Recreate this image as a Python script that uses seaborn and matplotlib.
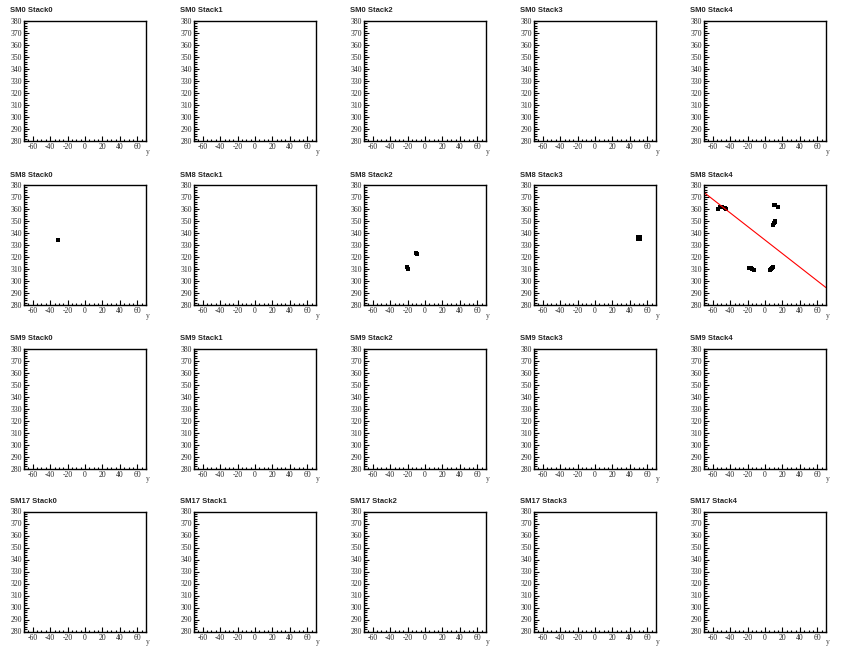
import seaborn as sns
import matplotlib.pyplot as plt
from matplotlib.ticker import MultipleLocator
import pandas as pd

# modules and stacks shown in the grid
sm_ids = [0, 8, 9, 17]
stack_ids = [0, 1, 2, 3, 4]

# hits (y, z) per panel
sm8_s0_y = [-31]
sm8_s0_z = [334]

sm8_s2_y = [-10, -9, -21, -20]
sm8_s2_z = [323.5, 322.5, 312, 310]

sm8_s3_y = [50]
sm8_s3_z = [336]

sm8_s4_y = [-54, -52, -49, -46, -45, 10, 12, 15, 9, 10, 11, 12,
            -18, -16, -15, -13, 6, 7, 8, 9]
sm8_s4_z = [360, 362, 362, 361, 360, 363, 363, 362, 347, 348, 349, 350,
            311, 311, 310, 309.5, 309, 310, 311, 312]

# straight line fit through SM8 Stack4
fit_y = [-70, 70]
fit_z = [373.8, 294.5]

hits = {
    (8, 0): (sm8_s0_y, sm8_s0_z),
    (8, 2): (sm8_s2_y, sm8_s2_z),
    (8, 3): (sm8_s3_y, sm8_s3_z),
    (8, 4): (sm8_s4_y, sm8_s4_z),
}
msize = {(8, 0): 6, (8, 2): 9, (8, 3): 22, (8, 4): 9}

sns.set_style("white")
plt.rcParams['font.family'] = ['Liberation Serif', 'DejaVu Serif']
plt.rcParams['axes.unicode_minus'] = False

W, H = 851, 656
fig = plt.figure(figsize=(W / 100, H / 100), dpi=100)

col_left = [24, 194, 364, 534, 704]
row_top = [21, 185, 348.5, 511.5]
aw, ah = 122, 120

for r, sm in enumerate(sm_ids):
    for c, st in enumerate(stack_ids):
        x0, y0 = col_left[c], row_top[r]
        ax = fig.add_axes([x0 / W, 1 - (y0 + ah) / H, aw / W, ah / H])
        ax.set_xlim(-70, 70)
        ax.set_ylim(280, 380)
        if (sm, st) in hits:
            yy, zz = hits[(sm, st)]
            df = pd.DataFrame({'y': yy, 'z': zz})
            sns.scatterplot(data=df, x='y', y='z', ax=ax, marker='s',
                            s=msize[(sm, st)], color='black', linewidth=0,
                            legend=False)
        if (sm, st) == (8, 4):
            sns.lineplot(x=fit_y, y=fit_z, ax=ax, color='red', linewidth=0.8)
        ax.set_xticks([-60, -40, -20, 0, 20, 40, 60])
        ax.xaxis.set_minor_locator(MultipleLocator(5))
        ax.yaxis.set_major_locator(MultipleLocator(10))
        ax.yaxis.set_minor_locator(MultipleLocator(2))
        ax.tick_params(which='both', direction='in', bottom=True, left=True,
                       top=False, right=False, labelsize=5.5, pad=1.5,
                       width=0.8, color='black')
        ax.tick_params(which='major', length=3.5)
        ax.tick_params(which='minor', length=1.8)
        ax.set_xlabel('')
        ax.set_ylabel('')
        ax.text(1.0, -0.055, 'y', transform=ax.transAxes, fontsize=5.5,
                ha='left', va='top', color='#444444')
        for sp in ax.spines.values():
            sp.set_linewidth(1.0)
            sp.set_color('black')
        fig.text((x0 - 14) / W, 1 - (y0 - 10) / H, f'SM{sm} Stack{st}',
                 fontsize=5.5, fontweight='bold', family='Liberation Sans',
                 ha='left', va='center')

fig.savefig('out.png', dpi=100)
